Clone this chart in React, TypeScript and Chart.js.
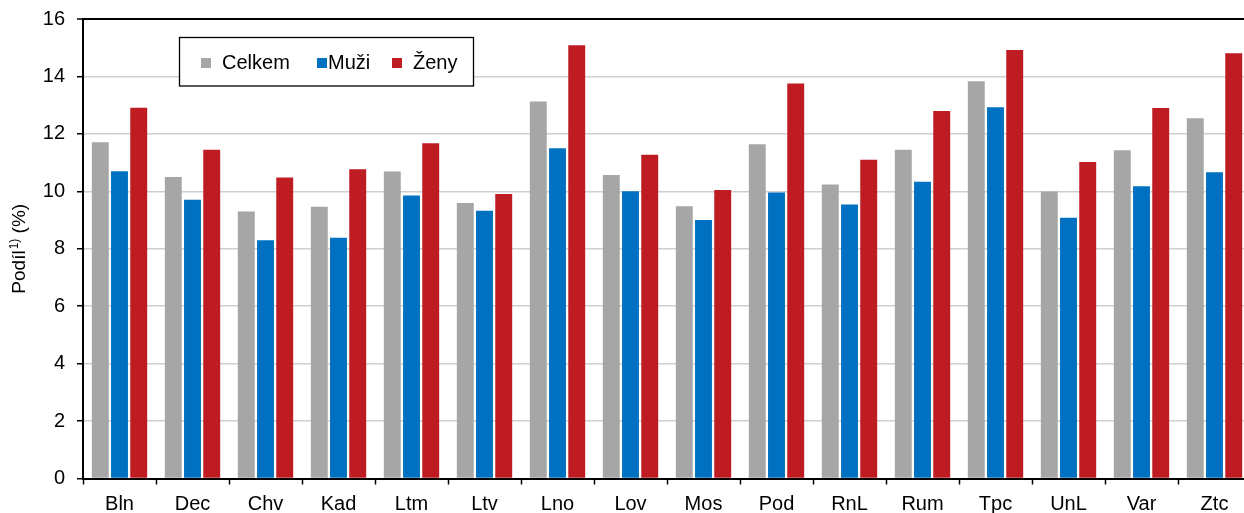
import React, { useEffect, useRef } from "react";
import { Chart, registerables } from "chart.js";

Chart.register(...registerables);

const categories = ["Bln", "Dec", "Chv", "Kad", "Ltm", "Ltv", "Lno", "Lov", "Mos", "Pod", "RnL", "Rum", "Tpc", "UnL", "Var", "Ztc"];
const celkem = [11.71, 10.5, 9.3, 9.46, 10.69, 9.59, 13.13, 10.57, 9.48, 11.64, 10.24, 11.45, 13.83, 9.99, 11.43, 12.54];
const muzi = [10.7, 9.71, 8.3, 8.38, 9.85, 9.32, 11.5, 10.0, 9.0, 9.96, 9.54, 10.33, 12.93, 9.08, 10.18, 10.66];
const zeny = [12.91, 11.45, 10.48, 10.77, 11.67, 9.91, 15.09, 11.27, 10.05, 13.75, 11.1, 12.8, 14.92, 11.02, 12.9, 14.81];
const seriesNames = ["Celkem", "Muži", "Ženy"];
const seriesColors = ["#a6a6a6", "#0070c0", "#be1b22"];
const yTitleMain = "Podíl";
const yTitleSup = "1)";
const yTitleUnit = " (%)";

const FONT = "'Liberation Sans', Arial, sans-serif";

const boxLegend = {
  id: "boxLegend",
  afterDraw(chart: any) {
    const ctx = chart.ctx;
    ctx.save();
    const bx = 179.5, by = 37.5, bw = 294, bh = 48.5;
    ctx.fillStyle = "#ffffff";
    ctx.fillRect(bx, by, bw, bh);
    ctx.strokeStyle = "#000000";
    ctx.lineWidth = 1.3;
    ctx.strokeRect(bx, by, bw, bh);
    const sq = [201, 317, 392];
    const tx = [222, 328, 413];
    ctx.font = "20px " + FONT;
    ctx.textBaseline = "middle";
    ctx.textAlign = "left";
    for (let i = 0; i < seriesNames.length; i++) {
      ctx.fillStyle = seriesColors[i];
      ctx.fillRect(sq[i], 58, 10, 10);
      ctx.fillStyle = "#000000";
      ctx.fillText(seriesNames[i], tx[i], 63);
    }
    ctx.restore();
  },
};

const yTitlePlugin = {
  id: "yTitlePlugin",
  afterDraw(chart: any) {
    const ctx = chart.ctx;
    const ca = chart.chartArea;
    ctx.save();
    const big = "19px " + FONT;
    const small = "12px " + FONT;
    ctx.font = big;
    const w1 = ctx.measureText(yTitleMain).width;
    const w3 = ctx.measureText(yTitleUnit).width;
    ctx.font = small;
    const w2 = ctx.measureText(yTitleSup).width + 1;
    const total = w1 + w2 + w3;
    ctx.translate(25, (ca.top + ca.bottom) / 2);
    ctx.rotate(-Math.PI / 2);
    ctx.fillStyle = "#000";
    ctx.textBaseline = "alphabetic";
    ctx.textAlign = "left";
    let x = -total / 2;
    ctx.font = big;
    ctx.fillText(yTitleMain, x, 0);
    x += w1;
    ctx.font = small;
    ctx.fillText(yTitleSup, x + 1, -7);
    x += w2;
    ctx.font = big;
    ctx.fillText(yTitleUnit, x, 0);
    ctx.restore();
  },
};

export default function App() {
  const ref = useRef<HTMLCanvasElement>(null);
  useEffect(() => {
    document.body.style.margin = "0";
    document.body.style.overflow = "hidden";
    const data = [celkem, muzi, zeny];
    const chart = new Chart(ref.current!, {
      type: "bar",
      data: {
        labels: categories,
        datasets: seriesNames.map((n, i) => ({
          label: n,
          data: data[i],
          backgroundColor: seriesColors[i],
          borderWidth: 0,
          categoryPercentage: 0.79,
          barPercentage: 0.88,
        })),
      },
      options: {
        animation: false,
        responsive: false,
        layout: { padding: { top: 19, right: 1, left: 0, bottom: 0 } },
        plugins: { legend: { display: false }, tooltip: { enabled: false } },
        scales: {
          x: {
            afterFit: (s: any) => { s.height = 34.5; s.paddingLeft = 0; s.paddingRight = 0; },
            grid: { display: true, drawOnChartArea: false, drawTicks: true, tickLength: 6, tickColor: "#000", tickWidth: 1.5, offset: true },
            border: { color: "#000", width: 2 },
            ticks: { color: "#000", font: { family: FONT, size: 20 }, padding: 8 },
          },
          y: {
            min: 0,
            max: 16,
            afterFit: (s: any) => { s.width = 83; s.paddingTop = 0; s.paddingBottom = 0; },
            ticks: { stepSize: 2, color: "#000", font: { family: FONT, size: 20 }, padding: 12 },
            grid: {
              color: (c: any) => (c.tick && c.tick.value === 16 ? "#000" : "#cfcfcf"),
              lineWidth: (c: any) => (c.tick && c.tick.value === 16 ? 2 : 1.5),
              tickColor: "#000",
              tickLength: 6,
              tickWidth: 1.5,
            },
            border: { color: "#000", width: 2 },
            title: { display: false },
          },
        },
      },
      plugins: [boxLegend, yTitlePlugin],
    });
    return () => chart.destroy();
  }, []);
  return (
    <div style={{ width: 1244, height: 513, overflow: "hidden", position: "relative" }}>
      <canvas ref={ref} width={1252} height={513} style={{ display: "block" }} />
    </div>
  );
}
